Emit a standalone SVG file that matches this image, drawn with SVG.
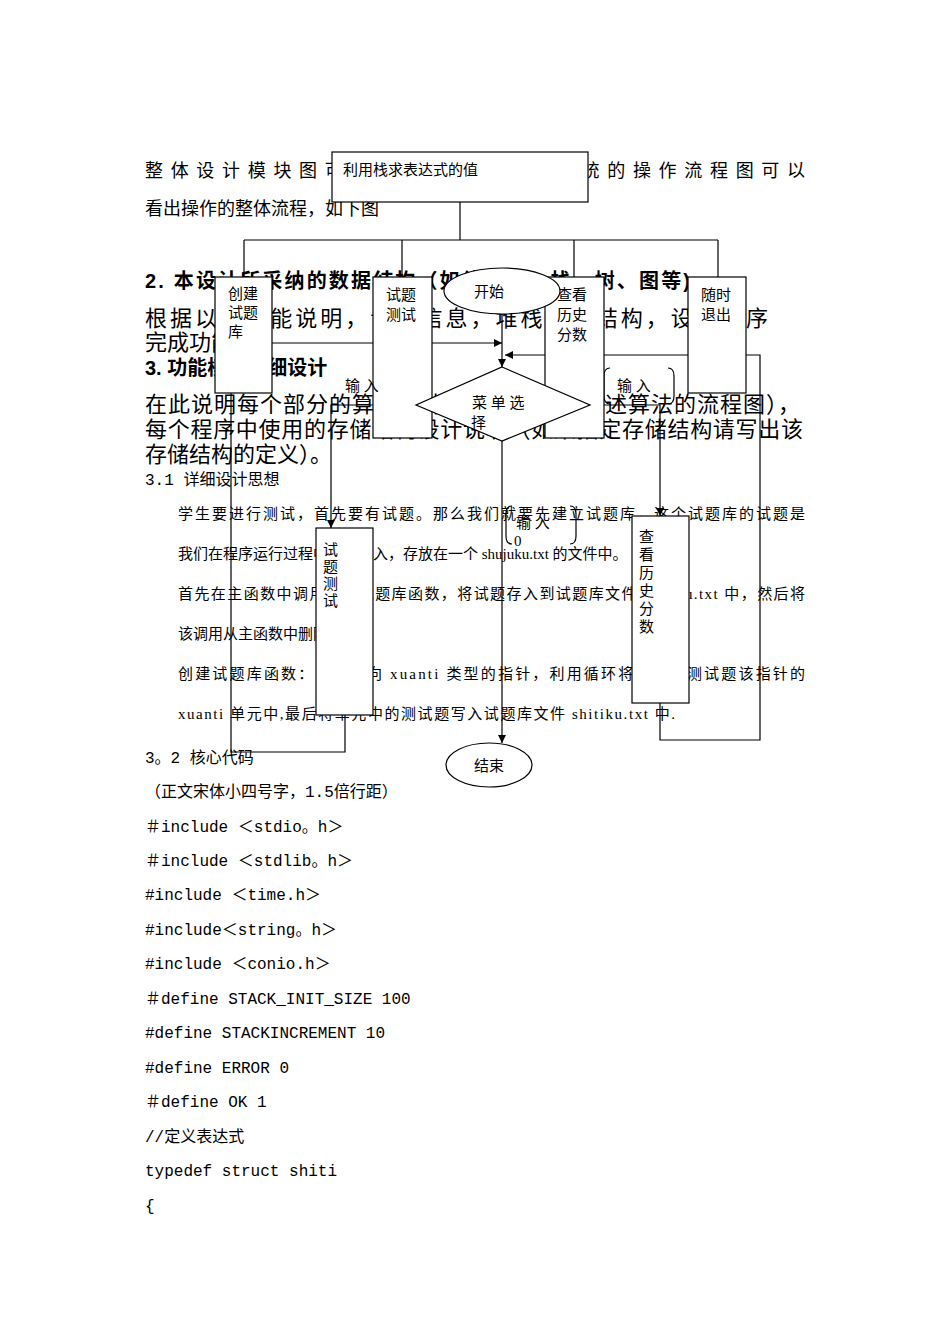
<svg xmlns="http://www.w3.org/2000/svg" width="950" height="1344" viewBox="0 0 950 1344">
<style>
.p{font-family:"Liberation Serif","Noto Sans CJK SC",serif;fill:#000}
.b{font-family:"Liberation Sans","Noto Sans CJK SC",sans-serif;font-weight:bold;font-size:20px;fill:#000}
.m{font-family:"Liberation Mono","Noto Sans CJK SC",monospace;font-size:16px;fill:#000}
.n{fill:#fff;stroke:#000;stroke-width:1.2}
.l{fill:none;stroke:#000;stroke-width:1.2}
.t{font-family:"Liberation Serif","Noto Sans CJK SC",serif;font-size:15px;fill:#000}
</style>
<defs><marker id="a" viewBox="0 0 10 10" refX="10" refY="5" markerWidth="7" markerHeight="7" orient="auto"><path d="M0,0L10,5L0,10z" fill="#000"/></marker></defs>
<rect width="950" height="1344" fill="#fff"/>
<g id="page">
<text class="p" x="145" y="177" font-size="18" textLength="660">整体设计模块图可以清楚的看出整个系统的操作流程图可以</text>
<text class="p" x="145" y="215" font-size="18">看出操作的整体流程，如下图</text>
<text class="b" x="145" y="288" textLength="545">2. 本设计所采纳的数据结构（如线性表、栈、树、图等)</text>
<text class="p" x="145" y="326" font-size="22" textLength="623">根据以上功能说明，设计信息，堆栈存储结构，设计程序</text>
<text class="p" x="145" y="350" font-size="22">完成功能</text>
<text class="b" x="145" y="375">3. 功能模块详细设计</text>
<text class="p" x="145" y="412" font-size="22" textLength="655">在此说明每个部分的算法设计说明（可以是描述算法的流程图），</text>
<text class="p" x="145" y="437" font-size="22" textLength="658">每个程序中使用的存储结构设计说明（如果指定存储结构请写出该</text>
<text class="p" x="145" y="462" font-size="22">存储结构的定义）。</text>
<text class="m" x="145" y="485">3.1 详细设计思想</text>
<text class="t" x="178" y="519" textLength="627">学生要进行测试，首先要有试题。那么我们就要先建立试题库，这个试题库的试题是</text>
<text class="t" x="178" y="559">我们在程序运行过程中手动输入，存放在一个 shujuku.txt 的文件中。</text>
<text class="t" x="178" y="599" textLength="627">首先在主函数中调用创建试题库函数，将试题存入到试题库文件 shitiku.txt 中，然后将</text>
<text class="t" x="178" y="639">该调用从主函数中删除。</text>
<text class="t" x="178" y="679" textLength="627">创建试题库函数：定义指向 xuanti 类型的指针，利用循环将输入的测试题该指针的</text>
<text class="t" x="178" y="719" textLength="497">xuanti 单元中,最后将单元中的测试题写入试题库文件 shitiku.txt 中.</text>
<text class="m" x="145" y="763">3。2 核心代码</text>
<text class="m" x="145" y="797">（正文宋体小四号字，1.5倍行距）</text>
<text class="m" x="145" y="832">＃include ＜stdio。h＞</text>
<text class="m" x="145" y="866">＃include ＜stdlib。h＞</text>
<text class="m" x="145" y="900">#include ＜time.h＞</text>
<text class="m" x="145" y="935">#include＜string。h＞</text>
<text class="m" x="145" y="969">#include ＜conio.h＞</text>
<text class="m" x="145" y="1004">＃define STACK_INIT_SIZE 100</text>
<text class="m" x="145" y="1038">#define STACKINCREMENT 10</text>
<text class="m" x="145" y="1073">#define ERROR 0</text>
<text class="m" x="145" y="1107">＃define OK 1</text>
<text class="m" x="145" y="1142">//定义表达式</text>
<text class="m" x="145" y="1176">typedef struct shiti</text>
<text class="m" x="145" y="1211"> {</text>
</g>
<g id="connectors">
<path class="l" d="M460,202V240M244,240H718M244,240V277M402,240V277M574,240V277M718,240V277"/>
<path class="l" d="M502,314V367" marker-end="url(#a)"/>
<path class="l" d="M231,393V752H345V715M231,343H502" marker-end="url(#a)"/>
<path class="l" d="M660,703V740H760V355H505" marker-end="url(#a)"/>
<path class="l" d="M416,405H331V528" marker-end="url(#a)"/>
<path class="l" d="M590,405H660V516" marker-end="url(#a)"/>
<path class="l" d="M502,441V743" marker-end="url(#a)"/>
<path class="l" d="M396,368q6,0 6,8v20q0,8 -6,8M610,368q-6,0 -6,8v20q0,8 6,8M668,368q6,0 6,8v20q0,8 -6,8M512,506q-6,0 -6,8v22q0,8 6,8M570,506q6,0 6,8v22q0,8 -6,8"/>
</g>
<g id="top"><rect class="n" x="332" y="152" width="256" height="50"/><text class="t" x="343" y="175">利用栈求表达式的值</text></g>
<g id="cj"><rect class="n" x="215" y="277" width="57" height="116"/><text class="t" x="228" y="299">创建</text><text class="t" x="228" y="318">试题</text><text class="t" x="228" y="337">库</text></g>
<g id="cs"><rect class="n" x="373" y="277" width="59" height="161"/><text class="t" x="386" y="300">试题</text><text class="t" x="386" y="320">测试</text></g>
<g id="ck"><rect class="n" x="545" y="277" width="59" height="161"/><text class="t" x="557" y="300">查看</text><text class="t" x="557" y="320">历史</text><text class="t" x="557" y="340">分数</text></g>
<g id="tc"><rect class="n" x="688" y="277" width="58" height="116"/><text class="t" x="701" y="300">随时</text><text class="t" x="701" y="320">退出</text></g>
<g id="start"><ellipse class="n" cx="502" cy="291" rx="58" ry="23"/><text class="t" x="474" y="297">开始</text></g>
<g id="menu"><path class="n" d="M502,367L590,405L502,441L416,405Z"/><text class="t" x="472" y="408">菜 单 选</text><text class="t" x="471" y="428">择</text></g>
<g id="in1"><text class="t" x="345" y="391">输 入</text></g>
<g id="in2"><text class="t" x="617" y="391">输 入</text></g>
<g id="in3"><text class="t" x="516" y="528">输 入</text><text class="t" x="514" y="546">0</text></g>
<g id="cs2"><rect class="n" x="316" y="528" width="57" height="187"/><text class="t" x="323" y="555">试</text><text class="t" x="323" y="572">题</text><text class="t" x="323" y="589">测</text><text class="t" x="323" y="606">试</text></g>
<g id="ck2"><rect class="n" x="632" y="516" width="57" height="187"/><text class="t" x="639" y="542">查</text><text class="t" x="639" y="560">看</text><text class="t" x="639" y="578">历</text><text class="t" x="639" y="596">史</text><text class="t" x="639" y="614">分</text><text class="t" x="639" y="632">数</text></g>
<g id="end"><ellipse class="n" cx="489" cy="765" rx="43" ry="22"/><text class="t" x="474" y="771">结束</text></g>
</svg>
